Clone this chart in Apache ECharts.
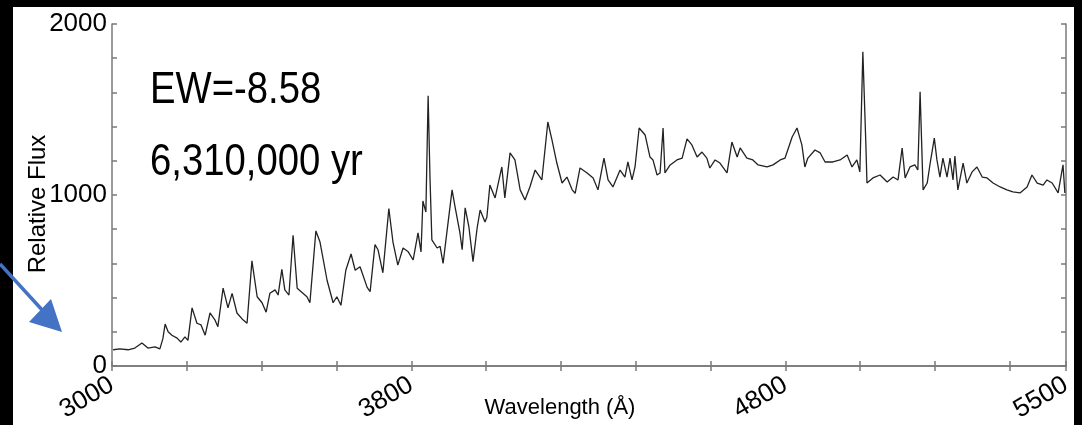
<!DOCTYPE html>
<html>
<head>
<meta charset="utf-8">
<script src="https://cdn.jsdelivr.net/npm/echarts@6/dist/echarts.min.js"></script>
<style>
  html, body { margin: 0; padding: 0; background: #000; }
  .paper {
    position: absolute;
    left: 13px; top: 7px;
    width: 1061px; height: 418px;
    background: #fff;
  }
  #spectrum {
    position: absolute;
    left: 0; top: 0;
    width: 1082px; height: 425px;
  }
</style>
</head>
<body>
<div class="paper"></div>
<div id="spectrum"></div>
<script>
// wavelength (Å) and relative flux
const wavelength = [
  3003, 3021, 3043, 3061, 3080, 3096, 3115, 3128, 3136, 3142,
  3150, 3160, 3174, 3184, 3195, 3203, 3214, 3227, 3238, 3249,
  3262, 3275, 3283, 3297, 3310, 3321, 3334, 3350, 3361, 3374,
  3388, 3401, 3412, 3422, 3436, 3444, 3454, 3462, 3473, 3484,
  3495, 3508, 3521, 3529, 3545, 3556, 3575, 3591, 3601, 3612,
  3625, 3639, 3650, 3663, 3682, 3690, 3703, 3711, 3724, 3740,
  3751, 3764, 3778, 3791, 3805, 3818, 3826, 3831, 3839, 3845,
  3850, 3855, 3869, 3877, 3885, 3909, 3917, 3930, 3936, 3944,
  3954, 3965, 3976, 3984, 3997, 4002, 4010, 4024, 4029, 4042,
  4050, 4064, 4077, 4091, 4104, 4117, 4131, 4149, 4165, 4176,
  4189, 4203, 4216, 4230, 4238, 4251, 4270, 4286, 4299, 4315,
  4326, 4339, 4358, 4371, 4379, 4390, 4398, 4409, 4425, 4438,
  4446, 4457, 4465, 4473, 4478, 4492, 4510, 4524, 4537, 4550,
  4564, 4577, 4590, 4598, 4612, 4625, 4644, 4657, 4671, 4679,
  4697, 4713, 4727, 4751, 4767, 4786, 4799, 4818, 4831, 4844,
  4852, 4860, 4879, 4893, 4906, 4927, 4946, 4965, 4978, 4991,
  4999, 5007, 5015, 5018, 5034, 5053, 5072, 5088, 5101, 5112,
  5120, 5133, 5146, 5154, 5160, 5168, 5179, 5187, 5198, 5205,
  5213, 5221, 5232, 5240, 5248, 5253, 5261, 5275, 5285, 5299,
  5312, 5326, 5339, 5355, 5374, 5392, 5408, 5427, 5446, 5459,
  5473, 5489, 5499, 5513, 5529, 5542, 5547
];
const flux = [
  95, 100, 95, 105, 134, 105, 112, 100, 160, 245,
  200, 180, 163, 140, 170, 150, 340, 250, 240, 180,
  310, 270, 230, 455, 340, 425, 310, 270, 250, 615,
  405, 370, 315, 425, 445, 415, 565, 445, 415, 765,
  455, 430, 405, 370, 790, 725, 500, 370, 405, 355,
  560, 655, 560, 580, 460, 435, 710, 680, 545, 920,
  725, 590, 690, 670, 620, 778, 667, 965, 900, 1580,
  1100, 737, 690, 700, 600, 1030, 930, 778, 680, 925,
  813, 610, 807, 912, 842, 870, 1058, 983, 983, 1164,
  983, 1246, 1205, 1030, 971, 1047, 1146, 1088, 1427, 1322,
  1187, 1070, 1105, 1030, 1010, 1158, 1129, 1100, 1030, 1216,
  1088, 1047, 1146, 1105, 1193, 1088, 1164, 1392, 1351, 1222,
  1205, 1117, 1129, 1392, 1129, 1176, 1205, 1216, 1328, 1293,
  1222, 1251, 1216, 1158, 1205, 1187, 1129, 1310, 1222, 1275,
  1216, 1205, 1176, 1164, 1176, 1205, 1216, 1339, 1392, 1293,
  1164, 1216, 1263, 1246, 1193, 1193, 1205, 1234, 1164, 1205,
  1135, 1837, 1300, 1070, 1100, 1117, 1076, 1105, 1088, 1275,
  1100, 1164, 1176, 1146, 1603, 1030, 1070, 1187, 1333, 1205,
  1105, 1216, 1105, 1216, 1088, 1228, 1030, 1187, 1070, 1135,
  1164, 1105, 1100, 1070, 1047, 1030, 1018, 1012, 1047, 1117,
  1070, 1058, 1088, 1070, 1012, 1176, 1012
];

// labelled ticks on the axes
const xTickValues = [3000, 3800, 4800, 5550];
const xTickLabels = ['3000', '3800', '4800', '5500'];
const yTickLabels = [0, 1000, 2000];

const noteLines = ['EW=-8.58', '6,310,000 yr'];

let chart = echarts.init(document.getElementById('spectrum'));

let axisGray = '#7a7a7a';
let labelFont = 'Liberation Sans';

let option = {
  animation: false,
  backgroundColor: 'transparent',
  grid: { left: 112, right: 16, top: 24, bottom: 59, outerBoundsMode: 'none' },
  xAxis: [
    {
      type: 'value',
      min: 3000,
      max: 5550,
      interval: 200,
      name: 'Wavelength (Å)',
      nameLocation: 'middle',
      nameGap: 31,
      nameMoveOverlap: false,
      nameTextStyle: {
        color: '#000', fontSize: 22, fontFamily: labelFont,
        padding: [0, 58, 0, 0]
      },
      splitLine: { show: false },
      axisLine: { lineStyle: { color: axisGray, width: 1.5 } },
      axisTick: { inside: true, length: 5, lineStyle: { color: axisGray, width: 1.5 } },
      axisLabel: {
        rotate: 30,
        margin: 17,
        showMinLabel: true,
        showMaxLabel: true,
        color: '#000',
        fontSize: 26,
        fontFamily: labelFont,
        formatter: function (v) {
          let i = xTickValues.indexOf(v);
          return i >= 0 ? xTickLabels[i] : '';
        }
      }
    },
    {
      type: 'value',
      position: 'top',
      min: 3000,
      max: 5550,
      interval: 200,
      splitLine: { show: false },
      axisLine: { lineStyle: { color: axisGray, width: 1.5 } },
      axisTick: { inside: true, length: 5, lineStyle: { color: axisGray, width: 1.5 } },
      axisLabel: { show: false }
    }
  ],
  yAxis: [
    {
      type: 'value',
      min: 0,
      max: 2000,
      interval: 200,
      name: 'Relative Flux',
      nameLocation: 'middle',
      nameGap: 62,
      nameMoveOverlap: false,
      nameTextStyle: {
        color: '#000', fontSize: 24, fontFamily: labelFont,
        padding: [0, 18, 0, 0]
      },
      splitLine: { show: false },
      axisLine: { show: true, lineStyle: { color: axisGray, width: 1.5 } },
      axisTick: { show: true, inside: true, length: 5, lineStyle: { color: axisGray, width: 1.5 } },
      axisLabel: {
        margin: 5,
        color: '#000',
        fontSize: 26,
        fontFamily: labelFont,
        formatter: function (v) {
          return yTickLabels.indexOf(v) >= 0 ? String(v) : '';
        }
      }
    },
    {
      type: 'value',
      position: 'right',
      min: 0,
      max: 2000,
      interval: 200,
      splitLine: { show: false },
      axisLine: { show: true, lineStyle: { color: axisGray, width: 1.5 } },
      axisTick: { show: true, inside: true, length: 5, lineStyle: { color: axisGray, width: 1.5 } },
      axisLabel: { show: false }
    }
  ],
  graphic: [
    {
      type: 'text', x: 150, y: 69, scaleX: 0.87,
      style: { text: noteLines[0], font: '44px "Liberation Sans"', fill: '#000' }
    },
    {
      type: 'text', x: 150, y: 141, scaleX: 0.87,
      style: { text: noteLines[1], font: '44px "Liberation Sans"', fill: '#000' }
    },
    // blue pointer arrow on the left
    {
      type: 'line',
      shape: { x1: 0, y1: 264, x2: 44, y2: 312 },
      style: { stroke: '#4472c4', lineWidth: 3.5 }
    },
    {
      type: 'polygon',
      shape: { points: [[62, 332], [29, 322], [51, 299]] },
      style: { fill: '#4472c4' }
    }
  ],
  series: [
    {
      type: 'line',
      xAxisIndex: 0,
      yAxisIndex: 0,
      showSymbol: false,
      symbol: 'none',
      lineStyle: { color: '#222', width: 1.3 },
      data: wavelength.map((w, i) => [w, flux[i]])
    }
  ]
};

chart.setOption(option);
</script>
</body>
</html>
